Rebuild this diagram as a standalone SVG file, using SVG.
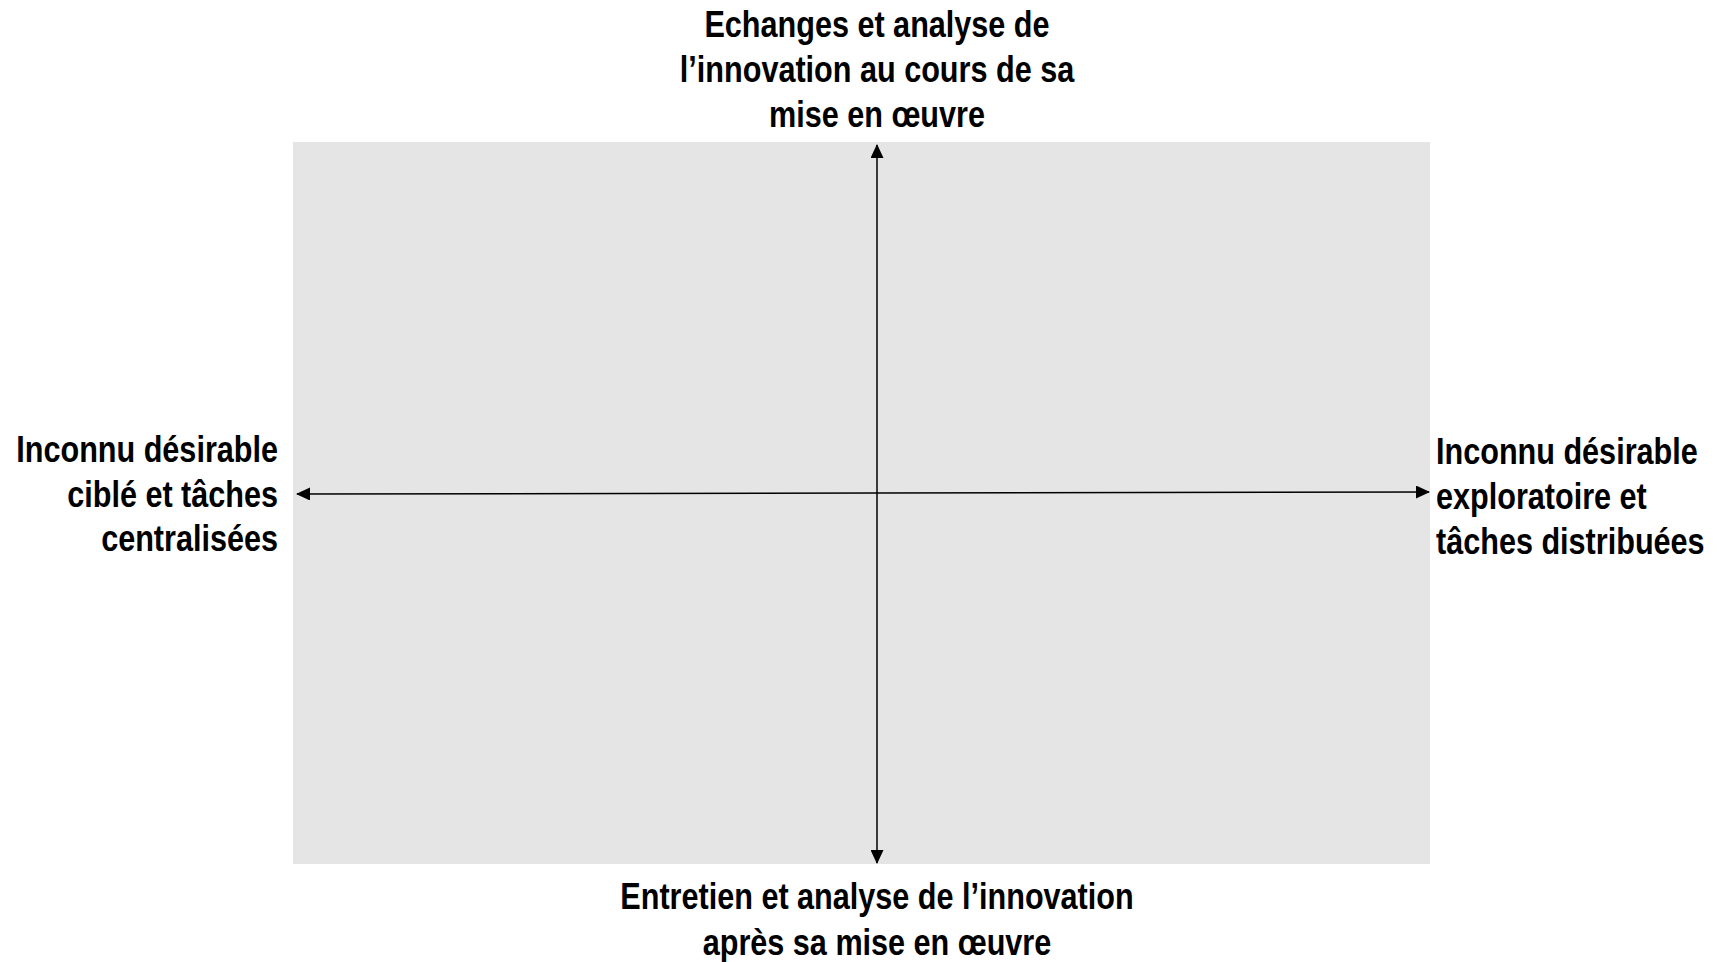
<svg xmlns="http://www.w3.org/2000/svg" width="1717" height="962" viewBox="0 0 1717 962">
<style>
.t{font-family:"Liberation Sans Narrow","Liberation Sans",Arial,sans-serif;font-weight:bold;font-size:37px;fill:#000}
.ax{stroke:#000;stroke-width:1.5;fill:none}
</style>
<defs>
<marker id="ah" viewBox="0 0 14 13" refX="13" refY="6.5" markerWidth="14" markerHeight="13" markerUnits="userSpaceOnUse" orient="auto">
<path d="M0,0 L14,6.5 L0,13 Z" fill="#000"/>
</marker>
</defs>
<rect width="1717" height="962" fill="#fff"/>
<g id="quadrant">
<rect x="293" y="142" width="1137" height="722" fill="#e5e5e5"/>
</g>
<g id="connectors">
<line class="ax" x1="877" y1="493" x2="877" y2="145" marker-end="url(#ah)"/>
<line class="ax" x1="877" y1="493" x2="877" y2="863" marker-end="url(#ah)"/>
<line class="ax" x1="877" y1="493" x2="297" y2="494" marker-end="url(#ah)"/>
<line class="ax" x1="877" y1="493" x2="1429" y2="492" marker-end="url(#ah)"/>
</g>
<g id="label-top">
<text class="t" text-anchor="middle" transform="translate(877 0) scale(0.827 1)"><tspan x="0" y="37">Echanges et analyse de</tspan><tspan x="0" y="82">l’innovation au cours de sa</tspan><tspan x="0" y="127">mise en œuvre</tspan></text>
</g>
<g id="label-left">
<text class="t" text-anchor="end" transform="translate(278 0) scale(0.827 1)"><tspan x="0" y="462">Inconnu désirable</tspan><tspan x="0" y="507">ciblé et tâches</tspan><tspan x="0" y="551">centralisées</tspan></text>
</g>
<g id="label-right">
<text class="t" transform="translate(1436 0) scale(0.827 1)"><tspan x="0" y="464">Inconnu désirable</tspan><tspan x="0" y="509">exploratoire et</tspan><tspan x="0" y="554">tâches distribuées</tspan></text>
</g>
<g id="label-bottom">
<text class="t" text-anchor="middle" transform="translate(877 0) scale(0.827 1)"><tspan x="0" y="909">Entretien et analyse de l’innovation</tspan><tspan x="0" y="955">après sa mise en œuvre</tspan></text>
</g>
</svg>
